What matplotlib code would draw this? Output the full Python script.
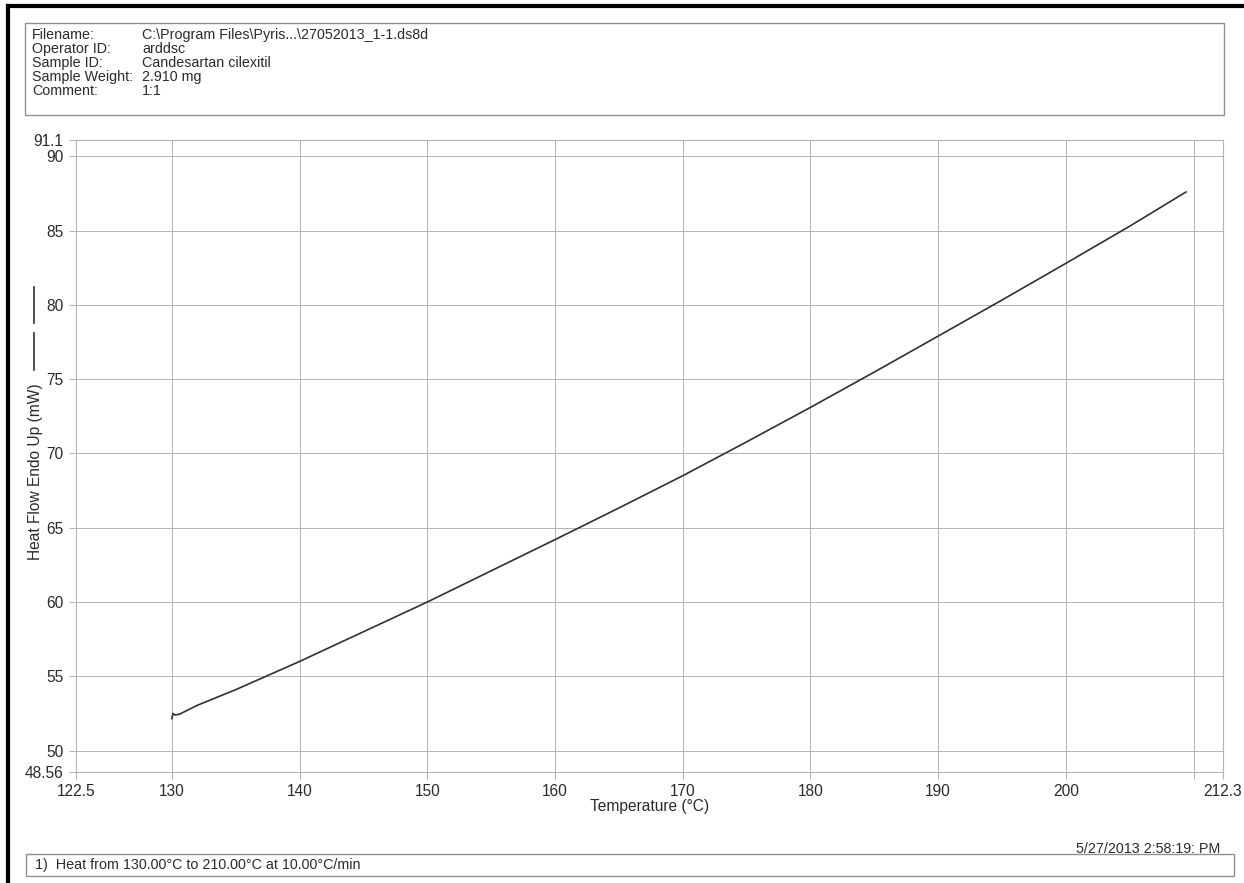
"""DSC heat flow trace, Candesartan cilexitil."""

import matplotlib
matplotlib.use("Agg")
from matplotlib import pyplot as plt
from matplotlib.lines import Line2D
from matplotlib.patches import Rectangle

plt.rcParams["font.family"] = ["Liberation Sans", "DejaVu Sans"]

# data
temperature = [130.0, 130.1, 130.25, 130.6, 132.0, 135.0, 140.0, 145.0, 150.0,
               155.0, 160.0, 165.0, 170.0, 175.0, 180.0, 185.0, 190.0, 195.0,
               200.0, 205.0, 209.4]
heat_flow = [52.15, 52.5, 52.4, 52.45, 53.05, 54.1, 56.0, 58.0, 60.0,
             62.1, 64.2, 66.33, 68.5, 70.78, 73.1, 75.48, 77.9, 80.33,
             82.8, 85.3, 87.6]

x_ticks = [122.5, 130, 140, 150, 160, 170, 180, 190, 200, 210, 212.3]
x_tick_labels = ["122.5", "130", "140", "150", "160", "170", "180", "190",
                 "200", "", "212.3"]
y_ticks = [48.56, 50, 55, 60, 65, 70, 75, 80, 85, 90, 91.1]
y_tick_labels = ["48.56", "50", "55", "60", "65", "70", "75", "80", "85",
                 "90", "91.1"]

header_keys = ["Filename:", "Operator ID:", "Sample ID:", "Sample Weight:",
               "Comment:"]
header_values = ["C:\\Program Files\\Pyris...\\27052013_1-1.ds8d", "arddsc",
                 "Candesartan cilexitil", "2.910 mg", "1:1"]
method_text = "1)  Heat from 130.00\u00b0C to 210.00\u00b0C at 10.00\u00b0C/min"
timestamp = "5/27/2013 2:58:19: PM"

W, H = 1244, 883
fig = plt.figure(figsize=(W / 100, H / 100), dpi=100)


def fx(px):
	return px / W


def fy(py):
	return 1 - py / H


grid_col = "#b4b4b4"
text_col = "#2a2a2a"
fs_head = 10.3
fs = 11.2

# outer page border (left and top)
fig.add_artist(Line2D([fx(8), fx(8)], [fy(6), 0], color="black", lw=3))
fig.add_artist(Line2D([fx(8), 1], [fy(6), fy(6)], color="black", lw=3))

# header box
fig.add_artist(Rectangle((fx(25), fy(115)), fx(1224 - 25), (115 - 23) / H,
                         fill=False, edgecolor="#909090", lw=1))
for i, (k, v) in enumerate(zip(header_keys, header_values)):
	y = fy(35 + i * 14)
	fig.text(fx(32), y, k, fontsize=fs_head, color=text_col, va="center")
	fig.text(fx(142), y, v, fontsize=fs_head, color=text_col, va="center")

# plot area
ax = fig.add_axes([fx(76), fy(772), fx(1223 - 76), (772 - 140) / H])
ax.plot(temperature, heat_flow, color="#303030", lw=1.2)
ax.set_xlim(122.5, 212.3)
ax.set_ylim(48.56, 91.1)
ax.set_xticks(x_ticks)
ax.set_xticklabels(x_tick_labels)
ax.set_yticks(y_ticks)
ax.set_yticklabels(y_tick_labels)
ax.tick_params(axis="both", direction="out", length=5, width=0.8,
               color=grid_col, labelsize=fs, labelcolor=text_col, pad=4)
ax.grid(True, color=grid_col, lw=0.7)
for s in ax.spines.values():
	s.set_color(grid_col)
	s.set_linewidth(0.8)
ax.set_xlabel("Temperature (\u00b0C)", fontsize=fs, color=text_col, labelpad=0)

# y label with line sample
fig.text(fx(36), fy(472), "Heat Flow Endo Up (mW)", rotation=90, fontsize=fs,
         color=text_col, ha="center", va="center")
fig.add_artist(Line2D([fx(34), fx(34)], [fy(287), fy(323)], color="#303030", lw=1.2))
fig.add_artist(Line2D([fx(34), fx(34)], [fy(333), fy(370)], color="#303030", lw=1.2))

# footer
fig.text(fx(1220), fy(849), timestamp, fontsize=fs_head, color=text_col,
         ha="right", va="center")
fig.add_artist(Rectangle((fx(26), fy(876)), fx(1234 - 26), (876 - 854) / H,
                         fill=False, edgecolor="#909090", lw=1))
fig.text(fx(35), fy(865), method_text, fontsize=fs_head, color=text_col, va="center")

fig.savefig("out.png", dpi=100, facecolor="white")
